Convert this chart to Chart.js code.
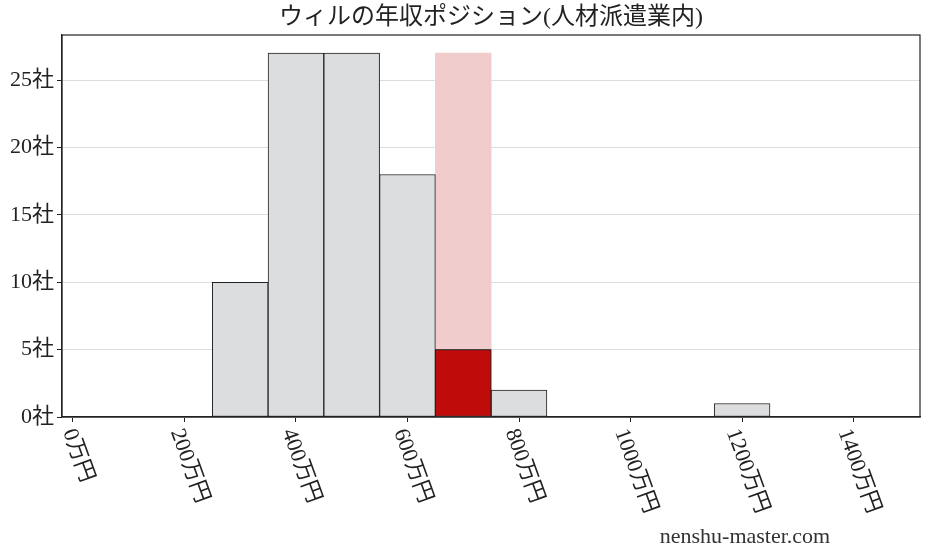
<!DOCTYPE html>
<html lang="ja">
<head>
  <meta charset="UTF-8">
  <title>ウィルの年収ポジション(人材派遣業内)</title>
  <style>
    body {
      margin: 0;
      background-color: #ffffff;
    }
    .chart-box {
      width: 928px;
      height: 557px;
      position: relative;
    }
  </style>
</head>
<body>

  <div class="chart-box">
    <canvas id="salaryChart"></canvas>
  </div>

  <script src="https://cdn.jsdelivr.net/npm/chart.js"></script>
  <script>
    // histogram bins (centre of each 100万円 bin) and company counts
    const binCenters = [300, 400, 500, 600, 700, 800, 900, 1000, 1100, 1200];
    const companyCounts = [10, 27, 27, 18, 5, 2, 0, 0, 0, 1];
    // the bin this company falls in
    const highlightBin = [700];
    const highlightCount = [5];
    const highlightBackground = [27];
    // axis ticks
    const xTicks = [0, 200, 400, 600, 800, 1000, 1200, 1400];
    const yTicks = [0, 5, 10, 15, 20, 25];

    const titleText = 'ウィルの年収ポジション(人材派遣業内)';
    const siteText = 'nenshu-master.com';
    const FONT = "'Liberation Serif', 'Noto Sans CJK JP', serif";

    function toPoints(xs, ys) {
      return xs.map((x, i) => ({ x: x, y: ys[i] }));
    }

    // title, rotated x labels, frame and watermark
    const decorations = {
      id: 'decorations',
      afterDatasetsDraw(chart) {
        const ctx = chart.ctx;
        const area = chart.chartArea;
        ctx.save();
        ctx.strokeStyle = '#222';
        ctx.lineWidth = 1.2;
        ctx.strokeRect(area.left, area.top, area.right - area.left, area.bottom - area.top);
        ctx.restore();
      },
      afterDraw(chart) {
        const ctx = chart.ctx;
        const area = chart.chartArea;
        const xScale = chart.scales.x;
        ctx.save();
        ctx.fillStyle = '#222';

        // title
        ctx.font = '24px ' + FONT;
        ctx.textAlign = 'center';
        ctx.textBaseline = 'middle';
        ctx.fillText(titleText, (area.left + area.right) / 2, area.top - 17);

        // x tick labels, turned 70 degrees clockwise
        const angle = 70 * Math.PI / 180;
        const size = 22;
        ctx.font = size + 'px ' + FONT;
        xTicks.forEach(v => {
          const label = v + '万円';
          const px = xScale.getPixelForValue(v);
          const len = ctx.measureText(label).width;
          const h = len * Math.sin(angle) + size * Math.cos(angle);
          const top = area.bottom + 9;
          ctx.save();
          ctx.translate(px + 5, top + h / 2);
          ctx.rotate(angle);
          ctx.textAlign = 'center';
          ctx.textBaseline = 'middle';
          ctx.fillText(label, 0, 0);
          ctx.restore();
        });

        // watermark
        ctx.font = '22px ' + FONT;
        ctx.fillStyle = '#333';
        ctx.textAlign = 'center';
        ctx.textBaseline = 'middle';
        ctx.fillText(siteText, area.right - 175, chart.height - 20);
        ctx.restore();
      }
    };

    const ctx = document.getElementById('salaryChart').getContext('2d');
    new Chart(ctx, {
      type: 'bar',
      data: {
        datasets: [
          {
            label: 'この会社',
            data: toPoints(highlightBin, highlightCount),
            backgroundColor: '#c00b0b',
            borderColor: '#222',
            borderWidth: 1,
            borderSkipped: false
          },
          {
            label: '人材派遣業',
            data: toPoints(binCenters, companyCounts),
            backgroundColor: '#dcdddf',
            borderColor: '#222',
            borderWidth: 1,
            borderSkipped: false
          },
          {
            label: '位置',
            data: toPoints(highlightBin, highlightBackground),
            backgroundColor: '#f0cccc',
            borderWidth: 0
          }
        ]
      },
      options: {
        responsive: true,
        maintainAspectRatio: false,
        animation: false,
        grouped: false,
        barPercentage: 1,
        categoryPercentage: 1,
        layout: {
          padding: { left: 0, right: 8, top: 35, bottom: 0 }
        },
        plugins: {
          legend: { display: false },
          tooltip: { enabled: false }
        },
        scales: {
          x: {
            type: 'linear',
            min: -19.5,
            max: 1519,
            offset: false,
            afterBuildTicks: s => { s.ticks = xTicks.map(v => ({ value: v })); },
            afterFit: s => { s.height = 140; },
            ticks: { display: false },
            grid: {
              offset: false,
              drawOnChartArea: false,
              tickLength: 5,
              tickColor: '#222'
            },
            border: { color: '#222', width: 1.2 }
          },
          y: {
            min: 0,
            max: 28.35,
            afterBuildTicks: s => { s.ticks = yTicks.map(v => ({ value: v })); },
            afterFit: s => { s.width = 62; },
            ticks: {
              callback: v => v + '社',
              color: '#222',
              padding: 3,
              font: { family: FONT, size: 22 }
            },
            grid: {
              color: '#dddddd',
              lineWidth: 1,
              tickLength: 5,
              tickColor: '#222'
            },
            border: { color: '#222', width: 1.2 }
          }
        }
      },
      plugins: [decorations]
    });
  </script>

</body>
</html>
